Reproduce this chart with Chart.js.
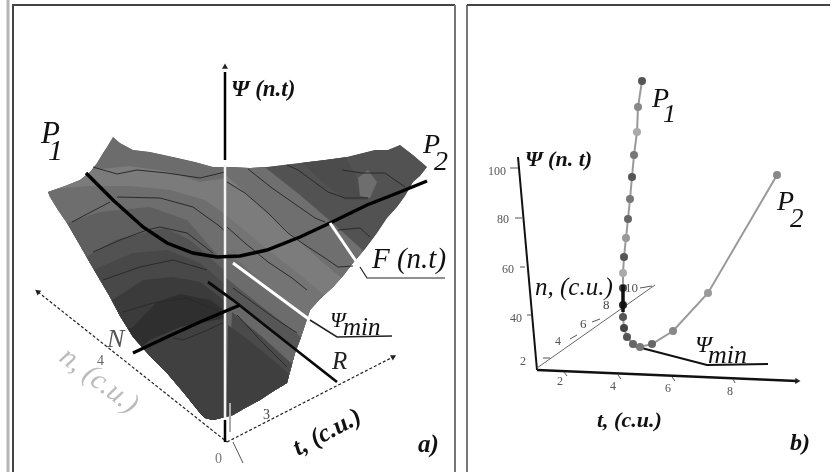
<!DOCTYPE html>
<html>
<head>
<meta charset="utf-8">
<style>
  html, body { margin: 0; padding: 0; background: #fff; }
  #fig { display: block; filter: blur(0.6px); }
</style>
<script src="https://cdn.jsdelivr.net/npm/chart.js@4/dist/chart.umd.min.js"></script>
</head>
<body>
<canvas id="fig" width="834" height="472"></canvas>
<script>

// panel a) surface outline
const surface = [[113,137],[120,143],[133,150],[150,152],[173,157],[195,162],[213,167],[227,167],[250,168],[267,167],[300,163],[325,160],[347,157],[375,150],[388,150],[400,145],[413,155],[427,167],[420,176],[413,182],[405,196],[397,207],[387,218],[377,233],[365,249],[353,263],[343,276],[333,287],[320,299],[310,310],[305,325],[300,340],[295,353],[291,368],[287,383],[272,392],[260,400],[245,408],[233,415],[213,420],[205,418],[200,413],[184,393],[167,373],[150,356],[133,337],[120,316],[110,297],[100,280],[90,263],[78,242],[67,223],[58,210],[50,197],[48,192],[65,186],[80,180],[90,172],[97,163],[103,153],[107,147]];

// shaded bands, left half, each one paints everything below its edge
const bandsLeft = [
  [[40,130],[226,130],[226,440],[40,440]],
  [[40,178],[90,170],[130,166],[170,172],[200,182],[226,178],[226,440],[40,440]],
  [[40,190],[90,186],[130,186],[170,190],[205,200],[226,215],[226,440],[40,440]],
  [[40,232],[100,212],[150,207],[187,220],[213,250],[226,263],[226,440],[40,440]],
  [[40,280],[85,258],[115,240],[165,228],[190,240],[215,262],[226,272],[226,440],[40,440]],
  [[40,300],[100,267],[133,253],[167,250],[200,263],[226,285],[226,440],[40,440]],
  [[40,340],[117,297],[143,280],[173,277],[200,282],[226,302],[226,440],[40,440]],
  [[40,370],[133,327],[157,302],[180,294],[210,300],[226,312],[226,440],[40,440]],
  [[40,440],[120,365],[150,340],[180,327],[226,318],[226,440]]
];
const bandsLeftColor = ['#6c6c6c','#7b7b7b','#6e6e6e','#5f5f5f','#525252','#484848','#3b3b3b','#2f2f2f','#404040'];

// shaded bands, right half
const bandsRight = [
  [[226,130],[450,130],[450,440],[226,440]],
  [[226,130],[240,130],[262,165],[300,195],[335,225],[390,275],[450,320],[450,440],[226,440]],
  [[226,175],[270,215],[320,260],[350,285],[420,340],[420,440],[226,440]],
  [[226,215],[262,245],[300,275],[330,300],[400,355],[400,440],[226,440]],
  [[226,250],[260,280],[310,320],[380,375],[380,440],[226,440]],
  [[226,278],[260,305],[305,340],[360,385],[360,440],[226,440]],
  [[226,296],[265,325],[300,352],[350,392],[350,440],[226,440]],
  [[232,312],[260,335],[290,362],[320,385],[320,440],[226,440]],
  [[228,325],[255,345],[287,372],[300,395],[300,440],[226,440]]
];
const bandsRightColor = ['#525252','#6f6f6f','#7c7c7c','#747474','#6c6c6c','#565656','#686868','#4a4a4a','#3f3f3f'];
const patchDark = [[300,160],[345,155],[368,200],[345,200],[320,180]];
const patchLight = [[358,178],[368,170],[377,182],[370,198],[360,196]];

// thin contour lines on the surface
const contours = [
  [[93,167],[117,174],[137,170],[167,173],[200,178],[225,172]],
  [[72,222],[110,202]],
  [[117,197],[160,198],[193,207],[218,225],[226,232]],
  [[93,252],[120,240],[147,230],[160,227],[187,233],[213,253]],
  [[103,280],[140,267],[173,260],[207,270]],
  [[123,312],[153,303],[187,298],[223,313]],
  [[173,338],[183,340],[203,332],[223,323]],
  [[248,169],[272,188],[292,202],[315,218],[325,222]],
  [[227,182],[245,193],[268,213],[288,233],[302,243],[325,258],[338,267],[353,266]],
  [[287,165],[298,170],[328,192],[345,198],[368,198]],
  [[342,170],[362,173],[385,173],[405,187]],
  [[338,230],[360,228],[370,237]],
  [[227,227],[245,243],[268,262],[292,278],[307,290]],
  [[233,288],[273,317],[297,333]],
  [[237,315],[263,343],[287,367]]
];

// heavy lines of panel a)
const curveF = [[86,173],[113,200],[143,227],[167,243],[193,253],[217,257],[240,256],[267,250],[300,237],[330,223],[367,205],[400,192],[427,181]];
const lineR = [[208,282],[233,300],[267,327],[300,353],[337,382]];
const lineN = [[133,353],[167,337],[200,322],[240,305]];
const axisUp = [[225,72],[225,160]];
const axisWhite = [[225,165],[225,420]];
const axisFoot = [[225,420],[225,442]];
const axisN = [[38,292],[227,442]];
const axisT = [[227,442],[393,357]];
const stubO = [[233,442],[243,463]];
const stubGray = [[230,403],[230,432]];
const leaderF = [[330,223],[360,267]];
const leaderFEnd = [[360,267],[367,278],[445,278]];
const leaderMin = [[233,263],[310,320]];
const leaderMinEnd = [[310,320],[337,337],[392,336]];

// panel b)
const phiAxis = [[518,157],[537,370]];
const tAxis = [[537,370],[797,381]];
const nAxis = [[537,368],[655,285]];
const minPath = [[630,345],[707,365],[768,364]];
const minDark = [[623,285],[623,312]];
const trajectory = [[642,81],[638,107],[637,132],[634,155],[632,177],[630,199],[628,219],[626,238],[624,257],[623,273],[623,288],[623,305],[623,317],[624,328],[627,337],[633,344],[640,347],[652,344],[673,331],[708,293],[777,175]];
const trajectoryColor = ['#555','#888','#aaa','#777','#555','#777','#666','#999','#555','#aaa','#444','#222','#555','#444','#555','#666','#777','#666','#888','#999','#888'];
const tickMarks = [
  [[510,168],[518,168]], [[515,218],[522,218]], [[520,267],[525,267]], [[527,315],[531,315]],
  [[543,358],[550,358]], [[570,339],[577,335]], [[592,322],[600,319]], [[640,288],[652,286]],
  [[564,372],[567,376]], [[618,375],[621,379]], [[672,377],[675,381]], [[733,379],[735,383]]
];
// arrow tips: position, then the heading in degrees
const arrowTips = [[225,67],[38,292],[393,357],[797,381]];
const arrowHeading = [0,-52,62,92];

// frame of the two panels
const frames = [
  [[8,0],[8,472]],
  [[13,472],[13,5],[455,5]],
  [[455,5],[455,472]],
  [[467,472],[467,5]],
  [[467,5],[830,5]]
];
const frameColor = ['#b5b5b5','#444','#777','#777','#444'];

const SERIF = '"Liberation Serif", serif';
// text, x, y (left, baseline), font, colour, rotation in degrees
const labels = [
  ['P', 41, 143, 'italic 31px', '#111', 0], ['1', 48, 160, 'italic 30px', '#111', 0],
  ['P', 423, 153, 'italic 28px', '#111', 0], ['2', 434, 170, 'italic 28px', '#111', 0],
  ['Ψ (n.t)', 231, 96, 'italic bold 23px', '#111', 0],
  ['F (n.t)', 372, 268, 'italic 29px', '#111', 0],
  ['Ψ', 330, 327, 'italic 22px', '#111', 0], ['min', 343, 335, 'italic 25px', '#111', 0],
  ['R', 332, 369, 'italic 25px', '#222', 0], ['N', 107, 347, 'italic 26px', '#555', 0],
  ['4', 97, 365, '14px', '#666', 0], ['3', 263, 419, '14px', '#444', 0], ['0', 215, 463, '14px', '#777', 0],
  ['t, (c.u.)', 298, 456, 'italic bold 25px', '#111', -28],
  ['n, (c.u.)', 58, 360, 'italic 29px', '#bbb', 37],
  ['a)', 418, 452, 'italic bold 25px', '#111', 0],
  ['P', 652, 107, 'italic 28px', '#111', 0], ['1', 663, 122, 'italic 26px', '#111', 0],
  ['P', 777, 210, 'italic 28px', '#111', 0], ['2', 790, 227, 'italic 27px', '#111', 0],
  ['Ψ (n. t)', 525, 166, 'italic bold 22px', '#111', 0],
  ['n, (c.u.)', 535, 295, 'italic 25px', '#111', 0],
  ['Ψ', 695, 352, 'italic 24px', '#111', 0], ['min', 708, 363, 'italic 26px', '#111', 0],
  ['t, (c.u.)', 597, 427, 'italic bold 22px', '#111', 0],
  ['b)', 790, 450, 'italic bold 24px', '#111', 0],
  ['100', 488, 175, '12px', '#555', 0], ['80', 497, 223, '12px', '#555', 0],
  ['60', 502, 273, '12px', '#555', 0], ['40', 510, 322, '12px', '#555', 0], ['2', 520, 365, '12px', '#555', 0],
  ['2', 557, 385, '12px', '#555', 0], ['4', 610, 390, '12px', '#555', 0],
  ['6', 665, 392, '12px', '#555', 0], ['8', 727, 395, '12px', '#555', 0],
  ['4', 555, 345, '12px', '#555', 0], ['6', 580, 328, '13px', '#444', 0],
  ['8', 603, 309, '13px', '#444', 0], ['10', 625, 292, '13px', '#555', 0]
];

const pts = list => list.map(p => ({ x: p[0], y: p[1] }));
const area = (list, color, extra) => Object.assign({ data: pts(list), showLine: true, fill: 'shape', backgroundColor: color, borderWidth: 0, pointRadius: 0 }, extra);
const stroke = (list, color, width, dash) => ({ data: pts(list), showLine: true, fill: false, borderColor: color, borderWidth: width, borderDash: dash || [], pointRadius: 0 });

// painted bottom first, reversed below because Chart.js draws dataset 0 last
const layers = [];
layers.push(area(surface, '#6c6c6c'));
bandsLeft.forEach((b, i) => layers.push(area(b, bandsLeftColor[i])));
bandsRight.forEach((b, i) => layers.push(area(b, bandsRightColor[i])));
layers.push(area(patchDark, '#4c4c4c'));
layers.push(area(patchLight, '#6e6e6e', { endOfClip: true }));
contours.forEach(c => layers.push(stroke(c, '#2a2a2a', 1)));
frames.forEach((f, i) => layers.push(stroke(f, frameColor[i], i === 0 ? 3 : 2)));
layers.push(stroke(axisN, '#222', 1.2, [3, 2]));
layers.push(stroke(axisT, '#222', 1.2, [3, 2]));
layers.push(stroke(stubO, '#555', 1));
layers.push(stroke(stubGray, '#aaa', 2));
layers.push(stroke(axisUp, '#000', 2.5));
layers.push(stroke(axisWhite, '#f4f4f4', 2.5));
layers.push(stroke(axisFoot, '#000', 2.5));
layers.push(stroke(curveF, '#000', 3.4));
layers.push(stroke(lineR, '#0a0a0a', 2.8));
layers.push(stroke(lineN, '#000', 3.2));
layers.push(stroke(leaderF, '#fff', 3));
layers.push(stroke(leaderFEnd, '#222', 1.2));
layers.push(stroke(leaderMin, '#fff', 3));
layers.push(stroke(leaderMinEnd, '#222', 1.5));
layers.push(stroke(phiAxis, '#111', 2));
layers.push(stroke(tAxis, '#111', 2.5));
layers.push(stroke(nAxis, '#666', 1));
tickMarks.forEach(t => layers.push(stroke(t, '#555', 1)));
layers.push(stroke(minPath, '#111', 2.2));
layers.push(Object.assign(stroke(trajectory, '#999', 2), { pointRadius: 4, pointBackgroundColor: trajectoryColor, pointBorderWidth: 0 }));
layers.push(stroke(minDark, '#111', 3.5));
layers.push({ data: pts(arrowTips), showLine: false, pointStyle: 'triangle', pointRadius: 3.5, pointRotation: arrowHeading, pointBackgroundColor: '#222', pointBorderWidth: 0 });

const xOf = (c, v) => c.scales.x.getPixelForValue(v);
const yOf = (c, v) => c.scales.y.getPixelForValue(v);

// keeps the shaded bands inside the surface outline
const clipBands = {
  id: 'clipBands',
  beforeDatasetsDraw(chart) {
    const ctx = chart.ctx;
    ctx.save();
    ctx.beginPath();
    surface.forEach((p, i) => {
      if (i === 0) ctx.moveTo(xOf(chart, p[0]), yOf(chart, p[1]));
      else ctx.lineTo(xOf(chart, p[0]), yOf(chart, p[1]));
    });
    ctx.closePath();
    ctx.clip();
  },
  afterDatasetDraw(chart, args) {
    if (chart.data.datasets[args.index].endOfClip) chart.ctx.restore();
  }
};

const figureText = {
  id: 'figureText',
  afterDatasetsDraw(chart) {
    const ctx = chart.ctx;
    labels.forEach(l => {
      ctx.save();
      ctx.translate(xOf(chart, l[1]), yOf(chart, l[2]));
      ctx.rotate(l[5] * Math.PI / 180);
      ctx.font = l[3] + ' ' + SERIF;
      ctx.fillStyle = l[4];
      ctx.textBaseline = 'alphabetic';
      ctx.fillText(l[0], 0, 0);
      ctx.restore();
    });
  }
};

new Chart(document.getElementById('fig'), {
  type: 'scatter',
  data: { datasets: layers.reverse() },
  plugins: [clipBands, figureText],
  options: {
    responsive: false,
    animation: false,
    devicePixelRatio: 1,
    layout: { padding: 0, autoPadding: false },
    elements: { line: { tension: 0 } },
    plugins: { legend: { display: false }, tooltip: { enabled: false } },
    scales: {
      x: { type: 'linear', min: 0, max: 834, display: false },
      y: { type: 'linear', min: 0, max: 472, reverse: true, display: false }
    }
  }
});
</script>
</body>
</html>
